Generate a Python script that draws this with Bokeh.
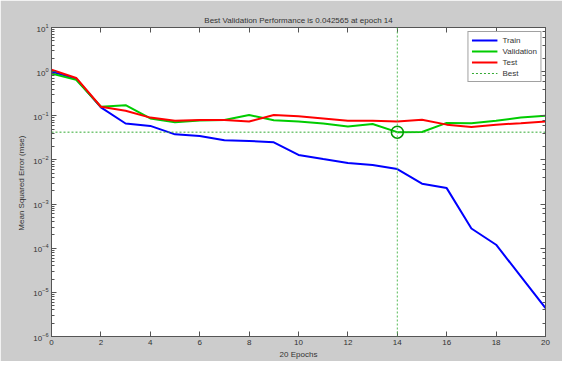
from bokeh.plotting import figure
from bokeh.models import LinearAxis, LogAxis, Legend, LegendItem, Span, FixedTicker
from bokeh.embed import file_html
from bokeh.resources import INLINE

epochs = list(range(21))
train = [1.0, 0.69, 0.155, 0.067, 0.059, 0.038, 0.035, 0.028, 0.027, 0.025, 0.013,
         0.0105, 0.0085, 0.0077, 0.0062, 0.0029, 0.0023, 0.00028, 0.00012, 2.3e-5, 4.4e-6]
validation = [0.91, 0.65, 0.16, 0.174, 0.087, 0.071, 0.078, 0.08, 0.104, 0.079, 0.074,
              0.067, 0.057, 0.065, 0.042565, 0.043, 0.069, 0.068, 0.077, 0.091, 0.1]
test = [1.1, 0.72, 0.16, 0.13, 0.091, 0.077, 0.08, 0.08, 0.074, 0.104, 0.097,
        0.087, 0.077, 0.077, 0.074, 0.081, 0.063, 0.056, 0.063, 0.068, 0.074]
best_epoch = 14
best_value = 0.042565
x_ticks = list(range(0, 21, 2))
title_text = "Best Validation Performance is 0.042565 at epoch 14"

FONT = "Liberation Sans"
BG = "#cccccc"
TXT = "#333333"

p = figure(width=562, height=361, y_axis_type="log", x_range=(0, 20), y_range=(1e-6, 10),
           output_backend="svg", toolbar_location=None,
           min_border_left=51, min_border_right=17, min_border_top=27, min_border_bottom=25)
p.title.text = title_text
p.title.align = "center"
p.title.text_font = FONT
p.title.text_font_size = "8px"
p.title.text_font_style = "normal"
p.title.text_color = TXT
p.title.offset = 0
p.title.standoff = 6
p.background_fill_color = "white"
p.border_fill_color = BG
p.outline_line_color = "#555555"
p.grid.visible = False

def style_axis(ax, labels=True):
    ax.major_tick_in = 5
    ax.major_tick_out = 0
    ax.minor_tick_in = 3
    ax.minor_tick_out = 0
    ax.axis_line_color = "#555555"
    ax.major_tick_line_color = "#555555"
    ax.minor_tick_line_color = "#555555"
    ax.major_label_text_font = FONT
    ax.major_label_text_font_size = "8px"
    ax.major_label_text_color = TXT
    ax.axis_label_text_font = FONT
    ax.axis_label_text_font_size = "8px"
    ax.axis_label_text_font_style = "normal"
    ax.axis_label_text_color = TXT
    if not labels:
        ax.major_label_text_alpha = 0
        ax.major_label_text_font_size = "1px"

p.xaxis.ticker = FixedTicker(ticks=x_ticks)
p.xaxis.axis_label = "20 Epochs"
p.xaxis.axis_label_standoff = 2
p.xaxis.major_label_standoff = 3
p.yaxis.axis_label = "Mean Squared Error  (mse)"
p.yaxis.axis_label_standoff = 4
p.yaxis.major_label_standoff = 3
style_axis(p.xaxis[0])
style_axis(p.yaxis[0])

top = LinearAxis(ticker=FixedTicker(ticks=x_ticks))
style_axis(top, labels=False)
p.add_layout(top, "above")
right = LogAxis()
style_axis(right, labels=False)
p.add_layout(right, "right")

r_train = p.line(epochs, train, line_color="#0000ff", line_width=2)
r_val = p.line(epochs, validation, line_color="#00cc00", line_width=2)
r_test = p.line(epochs, test, line_color="#ff0000", line_width=2)
r_best = p.line([0, 20], [best_value, best_value], line_color="#33aa33", line_width=1, line_dash="2 2")
p.add_layout(Span(location=best_epoch, dimension="height", line_color="#55bb55",
                  line_width=1, line_dash="2 2"))
p.scatter([best_epoch], [best_value], marker="circle", size=12, fill_alpha=0,
          line_color="#009900", line_width=1.5)

legend = Legend(items=[LegendItem(label="Train", renderers=[r_train]),
                       LegendItem(label="Validation", renderers=[r_val]),
                       LegendItem(label="Test", renderers=[r_test]),
                       LegendItem(label="Best", renderers=[r_best])],
                location="top_right")
legend.label_text_font = FONT
legend.label_text_font_size = "8px"
legend.label_text_color = TXT
legend.glyph_width = 26
legend.glyph_height = 10
legend.label_height = 10
legend.spacing = 1
legend.padding = 3
legend.margin = 4
legend.border_line_color = "#444444"
legend.background_fill_alpha = 1
p.add_layout(legend)

open("out.html", "w").write(file_html(p, INLINE))
